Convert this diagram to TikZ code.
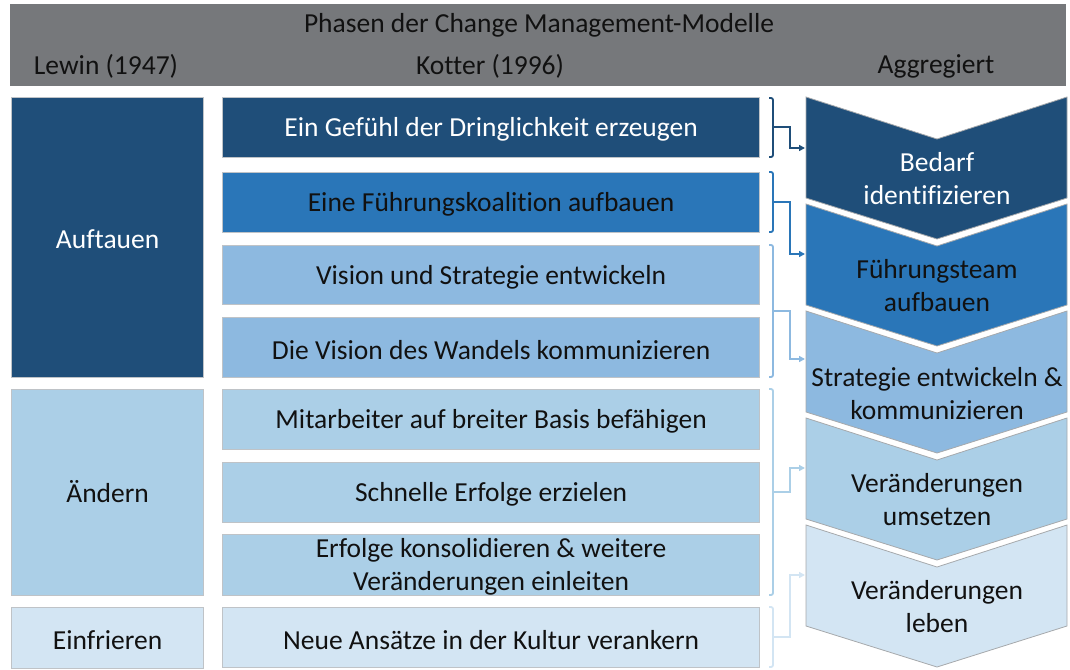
\documentclass[tikz,border=0pt]{standalone}
\usepackage{fontspec}
\setmainfont{Carlito}[Ligatures=NoCommon]
\usetikzlibrary{arrows.meta}
\definecolor{hdr}{HTML}{76787B}
\definecolor{lvA}{HTML}{1F4E79}
\definecolor{lvB}{HTML}{2A76B8}
\definecolor{lvC}{HTML}{8DB9E0}
\definecolor{lvD}{HTML}{ABCFE7}
\definecolor{lvE}{HTML}{D3E5F3}
\definecolor{ink}{HTML}{111111}
\definecolor{rim}{HTML}{BFC3C7}
\definecolor{chevrim}{HTML}{A6A9AC}
\begin{document}
\begin{tikzpicture}[x=1pt,y=-1pt,
  txt/.style={font=\fontsize{27.5}{33}\selectfont, text=ink, align=center, inner sep=0pt},
  lbl/.style={txt, yshift=-2pt},
  box/.style={txt, draw=rim, line width=1.2pt, anchor=north west, inner sep=0pt},
  chev/.style={draw=chevrim, line width=0.8pt},
  brk/.style={line width=1.8pt, rounded corners=2pt},
  conn/.style={line width=1.8pt, -{Triangle[length=6pt,width=6pt]}}]
\useasboundingbox (0,0) rectangle (1070,669);

% header bar
\fill[hdr] (10,4) rectangle (1066,86);
\node[txt] (title) at (539,25) {Phasen der Change Management-Modelle};
\node[txt] (hlewin) at (106,66) {Lewin (1947)};
\node[txt] (hkotter) at (490,66) {Kotter (1996)};
\node[txt] (hagg) at (936,66) {Aggregiert};

% Lewin phases
\node[box, fill=lvA, minimum width=192pt, minimum height=280pt] (auf) at (11,97) {};
\node[box, fill=lvD, minimum width=192pt, minimum height=206pt] (aen) at (11,389) {};
\node[box, fill=lvE, minimum width=192pt, minimum height=61pt] (ein) at (11,607) {};
\node[lbl, text=white] at (auf) {Auftauen};
\node[txt, yshift=1pt] at (aen) {Ändern};
\node[lbl] at (ein) {Einfrieren};

% Kotter steps
\node[box, fill=lvA, minimum width=537pt, minimum height=60pt] (k1) at (222,97) {};
\node[box, fill=lvB, minimum width=537pt, minimum height=60pt] (k2) at (222,172) {};
\node[box, fill=lvC, minimum width=537pt, minimum height=59pt] (k3) at (222,245) {};
\node[box, fill=lvC, minimum width=537pt, minimum height=60pt] (k4) at (222,317) {};
\node[box, fill=lvD, minimum width=537pt, minimum height=60pt] (k5) at (222,389) {};
\node[box, fill=lvD, minimum width=537pt, minimum height=60pt] (k6) at (222,462) {};
\node[box, fill=lvD, minimum width=537pt, minimum height=61pt] (k7) at (222,534) {};
\node[box, fill=lvE, minimum width=537pt, minimum height=60pt] (k8) at (222,607) {};
\node[lbl, text=white] at (k1) {Ein Gefühl der Dringlichkeit erzeugen};
\node[lbl] at (k2) {Eine Führungskoalition aufbauen};
\node[lbl] at (k3) {Vision und Strategie entwickeln};
\node[lbl] at (k4) {Die Vision des Wandels kommunizieren};
\node[lbl] at (k5) {Mitarbeiter auf breiter Basis befähigen};
\node[lbl] at (k6) {Schnelle Erfolge erzielen};
\node[lbl] at (k7) {Erfolge konsolidieren \& weitere\\Veränderungen einleiten};
\node[lbl] at (k8) {Neue Ansätze in der Kultur verankern};

% aggregated chevrons
\foreach \t/\c in {97/lvA,204/lvB,311/lvC,418/lvD,525/lvE}{
  \path[chev, fill=\c] (806,\t) -- (937,\t+42) -- (1067,\t) -- (1067,\t+101)
    -- (937,\t+142) -- (806,\t+101) -- cycle;
}
\node[lbl, text=white] (g1) at (937,177) {Bedarf\\identifizieren};
\node[lbl] (g2) at (937,284) {Führungsteam\\aufbauen};
\node[lbl] (g3) at (937,392) {Strategie entwickeln \&\\kommunizieren};
\node[lbl] (g4) at (937,498) {Veränderungen\\umsetzen};
\node[lbl] (g5) at (937,605) {Veränderungen\\leben};

% arrow targets on the chevrons
\coordinate (a1) at (805,148);
\coordinate (a2) at (805,254);
\coordinate (a3) at (805,359);
\coordinate (a4) at (805,468);
\coordinate (a5) at (805,575);

% brackets grouping the Kotter steps
\draw[brk, lvA] (769,98) -- (773,98) -- (773,157) -- (769,157);
\draw[brk, lvB] (769,172) -- (773,172) -- (773,232) -- (769,232);
\draw[brk, lvC] (769,245) -- (773,245) -- (773,377) -- (769,377);
\draw[brk, lvD] (769,389) -- (773,389) -- (773,595) -- (769,595);
\draw[brk, lvE] (769,607) -- (773,607) -- (773,667) -- (769,667);
\coordinate (b1) at (773,127);
\coordinate (b2) at (773,202);
\coordinate (b3) at (773,311);
\coordinate (b4) at (773,492);
\coordinate (b5) at (773,637);

% connectors from brackets to chevrons
\draw[conn, lvA] (b1) -- ++(17,0) |- (a1);
\draw[conn, lvB] (b2) -- ++(17,0) |- (a2);
\draw[conn, lvC] (b3) -- ++(17,0) |- (a3);
\draw[conn, lvD] (b4) -- ++(17,0) |- (a4);
\draw[conn, lvE] (b5) -- ++(17,0) |- (a5);
\end{tikzpicture}
\end{document}
